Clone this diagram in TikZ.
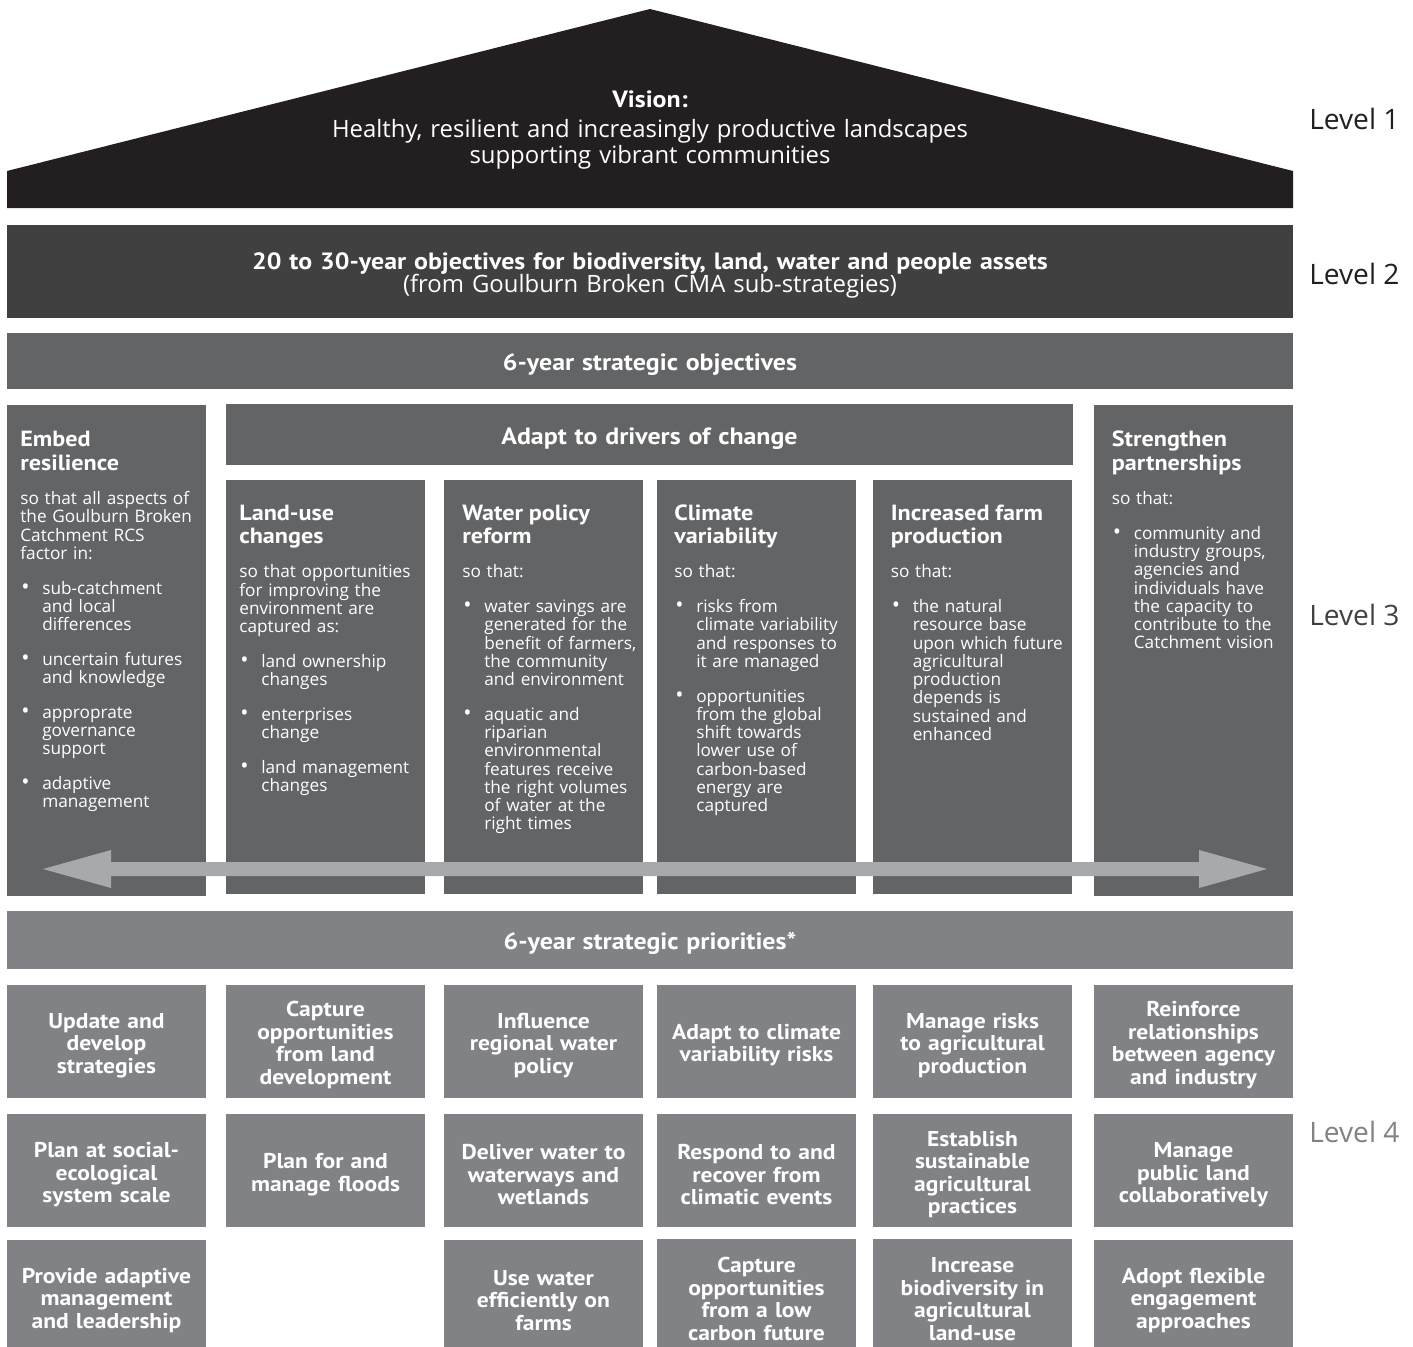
\documentclass[tikz,border=0pt]{standalone}
\usepackage{fontspec}
\setmainfont{Open Sans}
\newfontfamily\ptwide[FakeStretch=1.1]{PT Sans}
\usetikzlibrary{positioning}

\definecolor{roofblack}{HTML}{231F20}
\definecolor{bardark}{HTML}{404041}
\definecolor{colgray}{HTML}{636466}
\definecolor{priogray}{HTML}{808285}
\definecolor{arrowgray}{HTML}{A7A9AC}
\definecolor{lvlmid}{HTML}{414042}

\newcommand\colbodyfont{\fontsize{9.8}{10.4}\selectfont}
\newcommand\colheadfont{\ptwide\bfseries\fontsize{12.5}{13.3}\selectfont}
\newcommand\priofont{\ptwide\bfseries\fontsize{12.2}{12.8}\selectfont}
\newcommand\levelfont{\fontsize{16}{18}\selectfont}
\newcommand\barfont{\fontsize{13.6}{13.4}\selectfont}
\newcommand\bartitlefont{\ptwide\bfseries\fontsize{13.4}{14}\selectfont}

\newcommand\colhead[1]{{\colheadfont #1\par}}
\newcommand\sothat[1]{\par\vspace{9.3pt}\noindent #1\par}
\newcommand\bpoint[1]{\par\vspace{9.3pt}{\leftskip=12.5pt\noindent
  \llap{\makebox[12.5pt][l]{\hspace{0.6pt}{\fontsize{12.5}{10}\selectfont\textbullet}}}#1\par}}

\begin{document}
\begin{tikzpicture}[x=0.02cm,y=-0.02cm,
      prio/.style={fill=priogray,text=white,inner sep=0mm,
        minimum width=3.98cm,minimum height=2.26cm,text width=3.9cm,
        align=center,font=\priofont,
        execute at begin node={\rule{0pt}{13.4pt}}},
      coltext/.style={text=white,inner sep=0mm,anchor=base west,
        text width=120pt,align=left,font=\colbodyfont},
      bartext/.style={text=white,inner sep=0mm,anchor=base,
        text width=22cm,align=center},
      lvllabel/.style={inner sep=0mm,anchor=base west,font=\levelfont}]

    \useasboundingbox (0,0) rectangle (1413,1346);
    \clip (0,0) rectangle (1413,1346);

    % level 1: roof
    \fill[roofblack] (7,208) -- (7,171) -- (650,9) -- (1293,171) -- (1293,208) -- cycle;
    \node[bartext,font=\bartitlefont] (vision) at (650,107) {Vision:};
    \node[bartext,font=\barfont] (visiontxt) at (650,137)
      {Healthy, resilient and increasingly productive landscapes\\[0.5pt]
       supporting vibrant communities};

    % level 2
    \fill[bardark] (7,225) rectangle (1293,318);
    \node[bartext,font=\barfont] (longterm) at (650,269)
      {{\bartitlefont\fontsize{13.4}{13.4}\selectfont 20 to 30-year objectives for biodiversity, land, water and people assets}\\
       (from Goulburn Broken CMA sub-strategies)};

    % level 3
    \fill[colgray] (7,333) rectangle (1293,389);
    \node[bartext,font=\bartitlefont] (objectives) at (650,370) {6-year strategic objectives};

    \fill[colgray] (7,405) rectangle (206,896);
    \fill[colgray] (226,404) rectangle (1073,465);
    \fill[colgray] (226,480) rectangle (425,894);
    \fill[colgray] (444,480) rectangle (643,894);
    \fill[colgray] (657,480) rectangle (856,894);
    \fill[colgray] (873,480) rectangle (1072,894);
    \fill[colgray] (1094,405) rectangle (1293,896);

    \node[bartext,font=\bartitlefont] (drivers) at (649.5,444) {Adapt to drivers of change};

    \node[coltext] (resilience) at (20,446.7) {\colhead{Embed\\resilience}
      \sothat{so that all aspects of\\the Goulburn Broken\\Catchment RCS\\factor in:}
      \bpoint{sub-catchment\\and local\\differences}
      \bpoint{uncertain futures\\and knowledge}
      \bpoint{approprate\\governance\\support}
      \bpoint{adaptive\\management}};

    \node[coltext] (landuse) at (239,520) {\colhead{Land-use\\changes}
      \sothat{so that opportunities\\for improving the\\environment are\\captured as:}
      \bpoint{land ownership\\changes}
      \bpoint{enterprises\\change}
      \bpoint{land management\\changes}};

    \node[coltext] (waterpolicy) at (462,520) {\colhead{Water policy\\reform}
      \sothat{so that:}
      \bpoint{water savings are\\generated for the\\benefit of farmers,\\the community\\and environment}
      \bpoint{aquatic and\\riparian\\environmental\\features receive\\the right volumes\\of water at the\\right times}};

    \node[coltext] (climate) at (674,520) {\colhead{Climate\\variability}
      \sothat{so that:}
      \bpoint{risks from\\climate variability\\and responses to\\it are managed}
      \bpoint{opportunities\\from the global\\shift towards\\lower use of\\carbon-based\\energy are\\captured}};

    \node[coltext] (farmprod) at (890.5,520) {\colhead{Increased farm\\production}
      \sothat{so that:}
      \bpoint{the natural\\resource base\\upon which future\\agricultural\\production\\depends is\\sustained and\\enhanced}};

    \node[coltext] (partners) at (1111.5,446.7) {\colhead{Strengthen\\partnerships}
      \sothat{so that:}
      \bpoint{community and\\industry groups,\\agencies and\\individuals have\\the capacity to\\contribute to the\\Catchment vision}};

    % two-way arrow across the objectives
    \fill[arrowgray] (43,869) -- (111,850) -- (111,862) -- (1199,862) -- (1199,850)
      -- (1267,869) -- (1199,888) -- (1199,876) -- (111,876) -- (111,888) -- cycle;

    % level 4
    \fill[priogray] (7,911) rectangle (1293,969);
    \node[bartext,font=\bartitlefont] (priorities) at (650,949) {6-year strategic priorities*};

    \node[prio] (update) at (106.5,1041) {Update and\\develop\\strategies};
    \node[prio] (captureland) at (325.5,1041) {Capture\\opportunities\\from land\\development};
    \node[prio] (influence) at (543.5,1041) {Influence\\regional water\\policy};
    \node[prio] (adaptrisk) at (756.5,1041) {Adapt to climate\\variability risks};
    \node[prio] (agrisk) at (972.5,1041) {Manage risks\\to agricultural\\production};
    \node[prio] (reinforce) at (1193.5,1041) {Reinforce\\relationships\\between agency\\and industry};

    \node[prio] (planscale) at (106.5,1170.5) {Plan at social-\\ecological\\system scale};
    \node[prio] (floods) at (325.5,1170.5) {Plan for and\\manage floods};
    \node[prio] (deliver) at (543.5,1170.5) {Deliver water to\\waterways and\\wetlands};
    \node[prio] (respond) at (756.5,1170.5) {Respond to and\\recover from\\climatic events};
    \node[prio] (establish) at (972.5,1170.5) {Establish\\sustainable\\agricultural\\practices};
    \node[prio] (publicland) at (1193.5,1170.5) {Manage\\public land\\collaboratively};

    \node[prio] (leadership) at (106.5,1296) {Provide adaptive\\management\\and leadership};
    \node[prio] (efficient) at (543.5,1296) {Use water\\efficiently on\\farms};
    \node[prio] (lowcarbon) at (756.5,1295) {Capture\\opportunities\\from a low\\carbon future};
    \node[prio] (biodiv) at (972.5,1295) {Increase\\biodiversity in\\agricultural\\land-use};
    \node[prio] (flexible) at (1193.5,1296) {Adopt flexible\\engagement\\approaches};

    % level labels
    \node[lvllabel,text=roofblack] (lvlone) at (1309,129) {Level 1};
    \node[lvllabel,text=roofblack] (lvltwo) at (1309,284) {Level 2};
    \node[lvllabel,text=lvlmid] (lvlthree) at (1309,625) {Level 3};
    \node[lvllabel,text=priogray] (lvlfour) at (1309,1142) {Level 4};

\end{tikzpicture}
\end{document}
